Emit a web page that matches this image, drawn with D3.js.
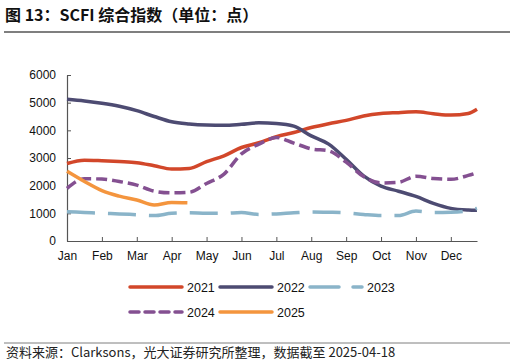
<!DOCTYPE html>
<html lang="zh">
<head>
<meta charset="UTF-8">
<title>SCFI 综合指数</title>
<script src="https://d3js.org/d3.v7.min.js"></script>
<style>
    body { margin: 0; background: #fff; }
    svg { display: block; }
</style>
</head>
<body>
<div id="chart"></div>
<script>
// month ticks (0 = Jan)
const months = ["Jan", "Feb", "Mar", "Apr", "May", "Jun", "Jul", "Aug", "Sep", "Oct", "Nov", "Dec"];
const yTicks = [0, 1000, 2000, 3000, 4000, 5000, 6000];

// positions in months, half-month steps
const xPos = [0, 0.5, 1, 1.5, 2, 2.5, 3, 3.5, 4, 4.5, 5, 5.5, 6, 6.5, 7, 7.5, 8, 8.5, 9, 9.5, 10, 10.5, 11, 11.5, 11.75];
const xPos2025 = [0, 0.5, 1, 1.5, 2, 2.5, 3, 3.45];

const v2021 = [2800, 2920, 2900, 2870, 2830, 2720, 2600, 2620, 2870, 3080, 3380, 3550, 3770, 3920, 4100, 4240, 4360, 4520, 4610, 4640, 4670, 4600, 4550, 4610, 4760];
const v2022 = [5120, 5060, 4980, 4870, 4710, 4500, 4310, 4230, 4190, 4180, 4220, 4270, 4250, 4150, 3800, 3500, 2950, 2350, 1980, 1800, 1610, 1360, 1180, 1120, 1110];
const v2023 = [1060, 1030, 1000, 980, 950, 920, 1000, 1020, 1000, 1000, 1030, 960, 980, 1020, 1050, 1040, 1020, 960, 920, 920, 1080, 1030, 1040, 1100, 1180];
const v2024 = [1900, 2250, 2240, 2150, 2020, 1800, 1740, 1760, 2080, 2420, 3150, 3500, 3740, 3540, 3330, 3260, 2850, 2330, 2100, 2120, 2340, 2260, 2230, 2370, 2470];
const v2025 = [2520, 2150, 1820, 1620, 1480, 1300, 1390, 1380];

const series = [
    { name: "2021", x: xPos, v: v2021, color: "#d2472a", dash: null },
    { name: "2022", x: xPos, v: v2022, color: "#4d4b72", dash: null },
    { name: "2023", x: xPos, v: v2023, color: "#8ab4c9", dash: "28,13" },
    { name: "2024", x: xPos, v: v2024, color: "#845091", dash: "11,5" },
    { name: "2025", x: xPos2025, v: v2025, color: "#f4953e", dash: null }
];

const W = 516, H = 364;
const svg = d3.select("#chart").append("svg")
    .attr("width", W)
    .attr("height", H);

// title + rules
svg.append("text")
    .attr("x", 5).attr("y", 21)
    .attr("font-family", "'Noto Sans CJK SC', sans-serif")
    .attr("font-weight", "bold")
    .attr("font-size", 16)
    .attr("fill", "#111")
    .text("图 13：SCFI 综合指数（单位：点）");
svg.append("line")
    .attr("x1", 4).attr("x2", 510).attr("y1", 32).attr("y2", 32)
    .attr("stroke", "#7f7f7f").attr("stroke-width", 2);
svg.append("line")
    .attr("x1", 4).attr("x2", 510).attr("y1", 343).attr("y2", 343)
    .attr("stroke", "#7f7f7f").attr("stroke-width", 1);
svg.append("text")
    .attr("x", 6).attr("y", 357)
    .attr("font-family", "'Noto Sans CJK SC', sans-serif")
    .attr("font-size", 13)
    .attr("fill", "#222")
    .text("资料来源：Clarksons，光大证券研究所整理，数据截至 2025-04-18");

// scales
const x = d3.scaleLinear().domain([0, 11.75]).range([67, 477]);
const y = d3.scaleLinear().domain([0, 6000]).range([241, 75]);

const font = "'Liberation Sans', Arial, sans-serif";

const xAxis = svg.append("g")
    .attr("transform", "translate(0,241)")
    .call(d3.axisBottom(x)
        .tickValues(d3.range(months.length))
        .tickFormat(i => months[i])
        .tickSizeInner(-4).tickSizeOuter(0).tickPadding(10));

const yAxis = svg.append("g")
    .attr("transform", "translate(67,0)")
    .call(d3.axisLeft(y)
        .tickValues(yTicks)
        .tickFormat(d3.format("d"))
        .tickSizeInner(-4).tickSizeOuter(0).tickPadding(11));

[xAxis, yAxis].forEach(g => {
    g.attr("font-family", font);
    g.select(".domain").attr("stroke", "#555").attr("stroke-width", 1.2);
    g.selectAll(".tick line").attr("stroke", "#555");
    g.selectAll(".tick text")
        .attr("font-family", font)
        .attr("font-size", 12)
        .attr("fill", "#111");
});

// lines
const line = d3.line()
    .x(d => x(d[0]))
    .y(d => y(d[1]))
    .curve(d3.curveMonotoneX);

series.forEach(s => {
    const pts = s.x.map((t, i) => [t, s.v[i]]);
    svg.append("path")
        .datum(pts)
        .attr("d", line)
        .attr("fill", "none")
        .attr("stroke", s.color)
        .attr("stroke-width", 3.5)
        .attr("stroke-linejoin", "round")
        .attr("stroke-dasharray", s.dash);
});

// legend
const legendPos = [[130, 287], [220, 287], [310, 287], [130, 312], [220, 312]];
series.forEach((s, i) => {
    const [lx, ly] = legendPos[i];
    svg.append("line")
        .attr("x1", lx).attr("x2", lx + 52)
        .attr("y1", ly).attr("y2", ly)
        .attr("stroke", s.color)
        .attr("stroke-width", 3.5)
        .attr("stroke-linecap", "round")
        .attr("stroke-dasharray", s.dash ? (s.name === "2023" ? "29,14" : "9,6") : null);
    svg.append("text")
        .attr("x", lx + 57)
        .attr("y", ly + 4.5)
        .attr("font-family", font)
        .attr("font-size", 12.5)
        .attr("fill", "#111")
        .text(s.name);
});
</script>
</body>
</html>
